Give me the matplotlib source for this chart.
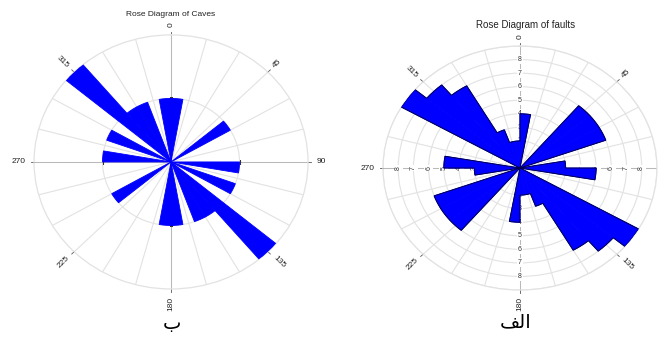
import numpy as np
import matplotlib.pyplot as plt

# 10 degree bins over 0-180, the other half is the mirror (bidirectional strikes)
bin_start = np.arange(0, 180, 10)
caves = [1, 0, 0, 0, 0, 1, 0, 0, 0, 1, 0, 1, 0, 2, 1, 1, 0, 1]
faults = [4, 0, 0, 0, 6, 6, 6, 0, 3, 5, 0, 0, 9, 8, 7, 3, 2, 2]

angle_labels = ['0', '45', '90', '135', '180', '225', '270', '315']
fault_rticks = [1, 2, 3, 4, 5, 6, 7, 8]

BLUE = '#0000ff'
GRID = '#e2e2e2'
AXIS = '#b8b8b8'
FONT = 'Liberation Sans'


def outline(ax, r36, color):
    # trace the outer edge of each run of adjacent non-empty bins
    n = len(r36)
    first_empty = next(i for i in range(n) if r36[i] == 0)
    runs, cur = [], []
    for k in range(n):
        b = (first_empty + k) % n
        if r36[b] > 0:
            cur.append(b)
        elif cur:
            runs.append(cur)
            cur = []
    if cur:
        runs.append(cur)
    for run in runs:
        th, rr = [np.deg2rad(run[0] * 10)], [0]
        for b in run:
            arc = np.deg2rad(np.linspace(b * 10, b * 10 + 10, 25))
            th += list(arc)
            rr += [r36[b]] * len(arc)
        th.append(np.deg2rad(run[-1] * 10 + 10))
        rr.append(0)
        ax.plot(th, rr, color=color, lw=0.7, zorder=5, solid_joinstyle='miter')


def rose(ax, counts, rmax, rings, edge=None, skip=()):
    ax.set_theta_zero_location('N')
    ax.set_theta_direction(-1)
    ax.set_aspect('auto')

    start = np.concatenate([bin_start, bin_start + 180])
    r = np.concatenate([counts, counts])
    keep = r > 0
    theta = np.deg2rad(start[keep] + 5)
    ax.bar(theta, r[keep], width=np.deg2rad(10), align='center',
           color=BLUE, edgecolor=BLUE, linewidth=0.6, zorder=4)
    if edge:
        outline(ax, r, edge)

    ax.set_ylim(0, rmax)
    ax.set_yticks(rings)
    ax.set_yticklabels([])
    ax.set_xticks(np.deg2rad(np.arange(0, 360, 15)))
    ax.set_xticklabels([])
    ax.tick_params(length=0)
    ax.grid(True, color=GRID, lw=0.8)
    ax.spines['polar'].set_color(GRID)
    ax.spines['polar'].set_linewidth(0.9)

    # main N-S / E-W axes
    for a in (0, 90, 180, 270):
        ax.plot([np.deg2rad(a)] * 2, [0, rmax], color=AXIS, lw=0.7, zorder=2)

    # compass labels with a short tick outside the rim
    for lab in angle_labels:
        if lab in skip:
            continue
        az = int(lab)
        t = np.deg2rad(az)
        rot = (90 - az) % 180
        if rot > 90:
            rot -= 180
        if rot == -90:
            rot = 90
        rr = rmax * (1.06 + 0.018 * len(lab))
        ax.plot([t, t], [rmax, rmax * 1.025], color='#555555', lw=0.6,
                clip_on=False, zorder=2)
        ax.text(t, rr, lab, rotation=rot, ha='center', va='center',
                fontsize=6, family=FONT, color='#222222', clip_on=False)


fig = plt.figure(figsize=(6.62, 3.41), dpi=100)

ax1 = fig.add_axes([0.0514, 0.1526, 0.4139, 0.745], projection='polar')
rose(ax1, caves, 2, [1])
for a in (0, 90, 180, 270):
    ax1.plot(np.deg2rad(a), 1, marker='|' if a in (90, 270) else '_',
             ms=3, mew=0.8, color='#333333', zorder=3)

# the east label of the faults rose falls past the right edge, so it is left out
ax2 = fig.add_axes([0.5785, 0.1495, 0.4139, 0.7155], projection='polar')
rose(ax2, faults, 9, list(range(1, 10)), edge='#000050', skip=('90',))
for k in fault_rticks:
    for a, rot in ((0, 0), (180, 0), (90, 90), (270, 90)):
        ax2.text(np.deg2rad(a), k, str(k), rotation=rot, ha='center',
                 va='center', fontsize=5, family=FONT, color='#333333',
                 zorder=3,
                 bbox=dict(boxstyle='square,pad=0.15', fc='white', ec='none'))

fig.text(171 / 662, 1 - 14 / 341, 'Rose Diagram of Caves', ha='center',
         va='center', fontsize=6, family=FONT, color='#222222')
fig.text(526 / 662, 1 - 25 / 341, 'Rose Diagram of faults', ha='center',
         va='center', fontsize=7, family=FONT, color='#222222')

# Arabic panel letters, glyphs given in display order
fig.text(172 / 662, 1 - 323 / 341, '\u0628', ha='center', va='center',
         fontsize=14, family='DejaVu Sans')
fig.text(516 / 662, 1 - 322 / 341, '\ufed2\ufedf\u0627', ha='center',
         va='center', fontsize=14, family='DejaVu Sans')

fig.savefig('out.png', dpi=100, facecolor='white')
